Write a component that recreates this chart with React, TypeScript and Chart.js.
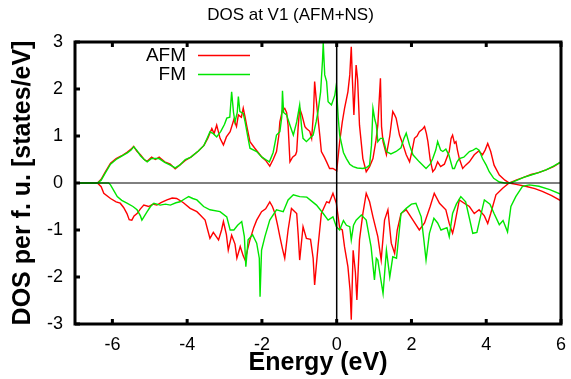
import { useEffect, useRef } from 'react';
import { Chart, registerables } from 'chart.js';

Chart.register(...registerables);

const FONT = '"Liberation Sans", Arial, Helvetica, sans-serif';

const chartTitle = 'DOS at V1 (AFM+NS)';
const xAxisTitle = 'Energy (eV)';
const yAxisTitle = 'DOS per f. u. [states/eV]';
const seriesNames = ['AFM', 'FM'];
const seriesColors = ['#ff0000', '#00e600'];
const xTicks = [-6, -4, -2, 0, 2, 4, 6];
const yTicks = [-3, -2, -1, 0, 1, 2, 3];

// [energy (eV), DOS]
const afmUp: number[][] = [
  [-7, 0], [-6.4, 0], [-6.3, 0.08], [-6.2, 0.22], [-6.05, 0.42], [-5.9, 0.52], [-5.75, 0.58], [-5.6, 0.66],
  [-5.5, 0.72], [-5.43, 0.78], [-5.35, 0.68], [-5.25, 0.6], [-5.15, 0.5], [-5.07, 0.46], [-4.95, 0.55],
  [-4.85, 0.5], [-4.75, 0.55], [-4.6, 0.45], [-4.45, 0.4], [-4.32, 0.3], [-4.2, 0.38], [-4.05, 0.48],
  [-3.9, 0.55], [-3.7, 0.68], [-3.55, 0.8], [-3.45, 0.95], [-3.34, 1.16], [-3.28, 1.05], [-3.21, 1.23],
  [-3.12, 0.95], [-3.03, 0.81], [-2.95, 0.98], [-2.85, 1.09], [-2.75, 1.35], [-2.68, 1.2], [-2.63, 1.45],
  [-2.55, 1.4], [-2.5, 1.59], [-2.45, 1.4], [-2.41, 1.23], [-2.32, 0.88], [-2.2, 0.75], [-2.1, 0.65],
  [-2.0, 0.55], [-1.9, 0.48], [-1.79, 0.36], [-1.7, 0.5], [-1.61, 0.67], [-1.55, 1.0], [-1.52, 1.3],
  [-1.45, 1.55], [-1.39, 1.59], [-1.34, 1.5], [-1.3, 1.23], [-1.25, 0.45], [-1.18, 0.55], [-1.1, 0.6],
  [-1.07, 0.67], [-1.03, 1.2], [-0.99, 1.59], [-0.93, 1.45], [-0.85, 1.2], [-0.81, 1.16], [-0.72, 1.1],
  [-0.67, 0.95], [-0.62, 1.5], [-0.59, 2.16], [-0.55, 1.8], [-0.5, 1.38], [-0.45, 1.0], [-0.41, 0.67],
  [-0.33, 0.55], [-0.27, 0.45], [-0.19, 0.31], [-0.1, 0.31], [0.0, 0.26], [0.08, 0.88], [0.15, 1.3],
  [0.21, 1.59], [0.3, 1.94], [0.35, 2.3], [0.39, 2.9], [0.42, 2.2], [0.46, 1.45], [0.52, 2.51], [0.56, 2.2],
  [0.61, 1.23], [0.7, 0.52], [0.79, 0.24], [0.88, 0.35], [0.97, 0.52], [1.05, 0.9], [1.1, 1.23], [1.17, 2.23],
  [1.2, 1.2], [1.24, 0.88], [1.33, 0.6], [1.42, 1.0], [1.5, 1.52], [1.55, 1.45], [1.59, 1.38], [1.68, 1.02],
  [1.78, 0.8], [1.86, 0.6], [1.95, 0.45], [2.02, 0.7], [2.08, 0.95], [2.15, 1.0], [2.21, 1.09], [2.3, 1.15],
  [2.35, 1.2], [2.4, 1.05], [2.44, 0.88], [2.5, 0.5], [2.57, 0.24], [2.63, 0.3], [2.7, 0.45], [2.78, 0.35],
  [2.88, 0.4], [3.01, 0.67], [3.06, 0.95], [3.1, 1.02], [3.15, 0.85], [3.19, 0.88], [3.23, 0.7], [3.28, 0.52],
  [3.37, 0.31], [3.45, 0.38], [3.55, 0.45], [3.68, 0.6], [3.8, 0.68], [3.9, 0.6], [3.97, 0.7], [4.04, 0.84],
  [4.12, 0.67], [4.21, 0.38], [4.35, 0.17], [4.5, 0.06], [4.62, 0.0], [4.8, 0.06], [5.0, 0.12], [5.2, 0.18],
  [5.4, 0.22], [5.6, 0.28], [5.8, 0.35], [6.0, 0.45],
];

const afmDown: number[][] = [
  [-7, 0], [-6.4, 0], [-6.3, -0.08], [-6.23, -0.22], [-6.05, -0.33], [-5.9, -0.4], [-5.79, -0.43],
  [-5.7, -0.52], [-5.61, -0.65], [-5.55, -0.78], [-5.48, -0.79], [-5.42, -0.7], [-5.34, -0.65],
  [-5.25, -0.55], [-5.16, -0.47], [-5.03, -0.5], [-4.92, -0.45], [-4.81, -0.47], [-4.7, -0.42],
  [-4.54, -0.36], [-4.4, -0.32], [-4.28, -0.33], [-4.1, -0.42], [-3.92, -0.54], [-3.74, -0.61],
  [-3.65, -0.68], [-3.52, -0.79], [-3.45, -1.0], [-3.39, -1.18], [-3.3, -1.05], [-3.16, -1.21],
  [-3.08, -1.0], [-3.03, -0.82], [-2.95, -1.1], [-2.9, -1.43], [-2.81, -1.11], [-2.72, -1.3],
  [-2.67, -1.6], [-2.58, -1.35], [-2.5, -1.55], [-2.45, -1.64], [-2.38, -1.4], [-2.32, -1.21],
  [-2.22, -0.95], [-2.14, -0.79], [-2.01, -0.61], [-1.9, -0.55], [-1.79, -0.4], [-1.72, -0.5],
  [-1.65, -0.65], [-1.58, -0.9], [-1.52, -1.14], [-1.45, -1.4], [-1.39, -1.6], [-1.3, -1.0],
  [-1.21, -0.54], [-1.07, -0.65], [-1.03, -1.1], [-0.99, -1.64], [-0.9, -0.93], [-0.81, -1.18],
  [-0.7, -1.2], [-0.63, -1.6], [-0.59, -2.17], [-0.55, -1.8], [-0.5, -1.36], [-0.41, -0.65],
  [-0.27, -0.4], [-0.2, -0.42], [-0.1, -0.22], [-0.01, -0.43], [0.08, -0.96], [0.15, -1.0],
  [0.21, -1.36], [0.3, -1.78], [0.36, -2.3], [0.39, -2.91], [0.44, -1.43], [0.5, -1.9], [0.54, -2.49],
  [0.61, -1.21], [0.7, -0.65], [0.79, -0.22], [0.88, -0.4], [0.97, -0.72], [1.1, -1.14], [1.19, -1.64],
  [1.28, -0.79], [1.37, -0.57], [1.46, -1.28], [1.55, -1.5], [1.62, -1.0], [1.72, -0.65], [1.86, -0.57],
  [2.04, -0.79], [2.21, -1.0], [2.35, -0.85], [2.5, -0.5], [2.61, -0.22], [2.75, -0.43], [2.92, -0.57],
  [3.01, -0.86], [3.1, -1.07], [3.15, -0.9], [3.28, -0.36], [3.41, -0.43], [3.55, -0.5], [3.68, -0.65],
  [3.81, -0.57], [3.95, -0.7], [4.04, -0.86], [4.12, -0.65], [4.26, -0.25], [4.44, -0.11], [4.61, 0.0],
  [4.8, -0.03], [5.05, -0.07], [5.3, -0.12], [5.5, -0.18], [5.75, -0.27], [6.0, -0.38],
];

const fmUp: number[][] = [
  [-7, 0], [-6.4, 0], [-6.3, 0.06], [-6.2, 0.2], [-6.05, 0.4], [-5.9, 0.5], [-5.75, 0.57], [-5.6, 0.64],
  [-5.5, 0.7], [-5.43, 0.77], [-5.35, 0.7], [-5.25, 0.58], [-5.15, 0.5], [-5.07, 0.45], [-4.95, 0.52],
  [-4.85, 0.52], [-4.75, 0.52], [-4.6, 0.44], [-4.45, 0.38], [-4.32, 0.32], [-4.2, 0.38], [-4.05, 0.5],
  [-3.9, 0.55], [-3.7, 0.68], [-3.55, 0.8], [-3.45, 0.98], [-3.39, 1.09], [-3.3, 1.05], [-3.21, 0.98],
  [-3.1, 1.1], [-3.0, 1.25], [-2.94, 1.38], [-2.86, 1.4], [-2.81, 1.94], [-2.76, 1.5], [-2.72, 1.3],
  [-2.66, 1.5], [-2.63, 1.84], [-2.59, 1.52], [-2.5, 1.48], [-2.45, 1.3], [-2.37, 0.95], [-2.32, 0.74],
  [-2.14, 0.67], [-2.0, 0.55], [-1.88, 0.49], [-1.8, 0.45], [-1.7, 0.65], [-1.61, 1.02], [-1.52, 1.09],
  [-1.47, 1.4], [-1.45, 1.96], [-1.42, 1.5], [-1.34, 1.45], [-1.25, 1.23], [-1.16, 1.02], [-1.07, 1.3],
  [-0.99, 1.66], [-0.94, 1.2], [-0.9, 0.95], [-0.81, 0.88], [-0.72, 0.95], [-0.63, 1.02], [-0.55, 1.3],
  [-0.5, 1.52], [-0.43, 1.94], [-0.38, 2.6], [-0.36, 2.98], [-0.32, 2.3], [-0.27, 2.16], [-0.23, 1.73],
  [-0.14, 1.66], [-0.05, 1.87], [-0.01, 2.09], [0.04, 1.4], [0.08, 1.02], [0.18, 0.65], [0.26, 0.52],
  [0.35, 0.4], [0.44, 0.35], [0.55, 0.32], [0.7, 0.31], [0.8, 0.33], [0.88, 0.38], [0.93, 0.8], [0.97, 1.59],
  [1.02, 1.35], [1.06, 1.23], [1.1, 0.88], [1.17, 0.95], [1.24, 0.95], [1.33, 0.67], [1.45, 0.62],
  [1.59, 0.67], [1.72, 0.75], [1.8, 0.95], [1.86, 1.06], [1.95, 0.8], [2.04, 0.6], [2.21, 0.45],
  [2.39, 0.31], [2.5, 0.4], [2.57, 0.52], [2.65, 0.7], [2.7, 0.88], [2.78, 0.7], [2.84, 0.67], [2.92, 0.72],
  [3.0, 0.6], [3.1, 0.31], [3.15, 0.31], [3.22, 0.45], [3.28, 0.52], [3.4, 0.55], [3.55, 0.67], [3.65, 0.7],
  [3.73, 0.74], [3.81, 0.7], [3.9, 0.52], [4.0, 0.38], [4.08, 0.24], [4.2, 0.1], [4.35, 0.02], [4.5, 0.0],
  [4.65, 0.0], [4.8, 0.05], [5.0, 0.12], [5.2, 0.17], [5.4, 0.22], [5.6, 0.28], [5.8, 0.36], [6.0, 0.45],
];

const fmDown: number[][] = [
  [-7, 0], [-6.1, 0], [-6.05, -0.04], [-5.95, -0.18], [-5.87, -0.29], [-5.75, -0.37], [-5.61, -0.43],
  [-5.45, -0.5], [-5.34, -0.57], [-5.25, -0.7], [-5.21, -0.79], [-5.14, -0.7], [-5.07, -0.61],
  [-4.98, -0.5], [-4.89, -0.43], [-4.72, -0.47], [-4.58, -0.45], [-4.45, -0.47], [-4.3, -0.42],
  [-4.19, -0.4], [-4.05, -0.33], [-3.96, -0.29], [-3.85, -0.33], [-3.74, -0.36], [-3.56, -0.5],
  [-3.39, -0.57], [-3.12, -0.61], [-2.94, -0.72], [-2.85, -1.0], [-2.75, -1.0], [-2.65, -0.9],
  [-2.54, -0.82], [-2.47, -1.14], [-2.43, -1.78], [-2.37, -1.21], [-2.25, -1.1], [-2.14, -1.28],
  [-2.07, -1.6], [-2.05, -2.42], [-2.01, -1.43], [-1.92, -1.14], [-1.79, -0.79], [-1.61, -0.57],
  [-1.43, -0.61], [-1.3, -0.36], [-1.16, -0.25], [-0.99, -0.29], [-0.8, -0.3], [-0.54, -0.47],
  [-0.36, -0.65], [-0.23, -0.79], [-0.1, -0.72], [-0.01, -0.93], [0.08, -1.0], [0.18, -0.8], [0.26, -0.9],
  [0.35, -0.93], [0.39, -1.21], [0.45, -0.9], [0.52, -0.79], [0.66, -0.68], [0.79, -0.79], [0.92, -1.36],
  [1.01, -2.06], [1.06, -1.6], [1.1, -1.64], [1.17, -2.0], [1.24, -2.35], [1.33, -1.43], [1.42, -2.0],
  [1.5, -1.57], [1.6, -1.6], [1.72, -0.65], [1.86, -0.54], [2.0, -0.45], [2.12, -0.43], [2.26, -0.72],
  [2.33, -1.2], [2.39, -1.64], [2.48, -1.07], [2.6, -0.75], [2.7, -0.85], [2.79, -1.0], [2.95, -0.95],
  [3.01, -1.14], [3.1, -0.65], [3.2, -0.45], [3.32, -0.29], [3.45, -0.4], [3.55, -0.75], [3.64, -1.07],
  [3.75, -1.05], [3.85, -0.7], [3.95, -0.36], [4.1, -0.45], [4.21, -0.65], [4.3, -0.8], [4.35, -0.89],
  [4.45, -0.8], [4.57, -1.04], [4.66, -0.5], [4.79, -0.29], [4.97, -0.07], [5.15, -0.04], [5.41, -0.07],
  [5.7, -0.14], [6.0, -0.24],
];

const toPoints = (arr: number[][]) => arr.map(([x, y]) => ({ x, y }));

const gnuplotDecor = {
  id: 'gnuplotDecor',
  afterDatasetsDraw(chart: any) {
    const { ctx, chartArea: a, scales } = chart;
    const x0 = scales.x.getPixelForValue(0);
    const y0 = scales.y.getPixelForValue(0);
    ctx.save();
    ctx.strokeStyle = '#000';
    ctx.lineWidth = 1;
    ctx.beginPath();
    ctx.moveTo(a.left, y0);
    ctx.lineTo(a.right, y0);
    ctx.stroke();
    ctx.lineWidth = 1.5;
    ctx.beginPath();
    ctx.moveTo(x0, a.top);
    ctx.lineTo(x0, a.bottom);
    ctx.stroke();
    ctx.restore();
  },
  afterDraw(chart: any) {
    const { ctx, chartArea: a, scales } = chart;
    ctx.save();
    ctx.strokeStyle = '#000';
    ctx.lineWidth = 3;
    ctx.strokeRect(a.left, a.top, a.right - a.left, a.bottom - a.top);
    ctx.beginPath();
    xTicks.forEach((v) => {
      const px = scales.x.getPixelForValue(v);
      ctx.moveTo(px, a.bottom);
      ctx.lineTo(px, a.bottom - 5);
      ctx.moveTo(px, a.top);
      ctx.lineTo(px, a.top + 5);
    });
    yTicks.forEach((v) => {
      const py = scales.y.getPixelForValue(v);
      ctx.moveTo(a.left, py);
      ctx.lineTo(a.left + 5, py);
    });
    ctx.stroke();
    ctx.fillStyle = '#000';
    ctx.font = `17px ${FONT}`;
    ctx.textAlign = 'center';
    ctx.textBaseline = 'middle';
    ctx.fillText(chartTitle, 290.5, 15);
    ctx.font = `19px ${FONT}`;
    ctx.textAlign = 'right';
    const rows = [55.5, 74.5];
    seriesNames.forEach((name, i) => {
      ctx.fillStyle = '#000';
      ctx.fillText(name, 186, rows[i]);
      ctx.strokeStyle = seriesColors[i];
      ctx.lineWidth = 1.5;
      ctx.beginPath();
      ctx.moveTo(198, rows[i]);
      ctx.lineTo(250, rows[i]);
      ctx.stroke();
    });
    ctx.restore();
  },
};

export default function App() {
  const ref = useRef<HTMLCanvasElement | null>(null);

  useEffect(() => {
    if (!ref.current) return;
    const line = (data: number[][], color: string, order: number) => ({
      data: toPoints(data),
      borderColor: color,
      backgroundColor: color,
      borderWidth: 1.4,
      pointRadius: 0,
      tension: 0,
      fill: false,
      order,
    });
    const chart = new Chart(ref.current, {
      type: 'line',
      data: {
        datasets: [
          { label: seriesNames[0], ...line(afmUp, seriesColors[0], 1) },
          { label: seriesNames[0] + ' down', ...line(afmDown, seriesColors[0], 1) },
          { label: seriesNames[1], ...line(fmUp, seriesColors[1], 0) },
          { label: seriesNames[1] + ' down', ...line(fmDown, seriesColors[1], 0) },
        ],
      },
      options: {
        animation: false,
        responsive: false,
        devicePixelRatio: 1,
        layout: { padding: { top: 42, right: 10, left: 0, bottom: 0 } },
        plugins: {
          legend: { display: false },
          title: { display: false },
          tooltip: { enabled: false },
        },
        scales: {
          x: {
            type: 'linear',
            min: -7,
            max: 6,
            afterBuildTicks: (s: any) => {
              s.ticks = xTicks.map((v) => ({ value: v }));
            },
            afterFit: (s: any) => {
              s.height = 55;
              s.paddingLeft = 0;
              s.paddingRight = 0;
            },
            grid: { display: false, drawTicks: false },
            border: { display: false },
            ticks: {
              color: '#000',
              font: { family: FONT, size: 18 },
              padding: 10,
              maxRotation: 0,
              autoSkip: false,
            },
            title: {
              display: true,
              text: xAxisTitle,
              color: '#000',
              font: { family: FONT, size: 25, weight: 'bold' },
              padding: { top: 0, bottom: 1 },
            },
          },
          y: {
            type: 'linear',
            min: -3,
            max: 3,
            afterBuildTicks: (s: any) => {
              s.ticks = yTicks.map((v) => ({ value: v }));
            },
            afterFit: (s: any) => {
              s.width = 75;
              s.paddingTop = 0;
              s.paddingBottom = 0;
            },
            grid: { display: false, drawTicks: false },
            border: { display: false },
            ticks: {
              color: '#000',
              font: { family: FONT, size: 18 },
              padding: 12,
              autoSkip: false,
            },
            title: {
              display: true,
              text: yAxisTitle,
              color: '#000',
              font: { family: FONT, size: 25, weight: 'bold' },
              padding: { top: 8.5, bottom: 0 },
            },
          },
        },
      } as any,
      plugins: [gnuplotDecor],
    });
    return () => chart.destroy();
  }, []);

  return (
    <div style={{ position: 'fixed', left: 0, top: 0, width: 571, height: 379, background: '#fff' }}>
      <canvas ref={ref} width={571} height={379} style={{ width: 571, height: 379, display: 'block' }} />
    </div>
  );
}
